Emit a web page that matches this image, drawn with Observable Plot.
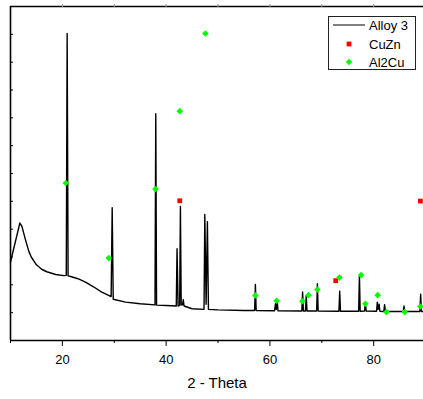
<!DOCTYPE html>
<html>
<head>
<meta charset="utf-8">
<script src="https://cdn.jsdelivr.net/npm/d3@7"></script>
<script src="https://cdn.jsdelivr.net/npm/@observablehq/plot@0.6"></script>
<style>
  html, body { margin: 0; padding: 0; background: #fff; }
  #chart { position: relative; width: 423px; height: 399px; font-family: "Liberation Sans", Arial, sans-serif; }
  #legend { position: absolute; left: 0; top: 0; pointer-events: none; }
</style>
</head>
<body>
<div id="chart"></div>
<script>
// XRD pattern of Alloy 3: 2θ (degrees) and intensity (a.u.)
const twoTheta = [
  10, 11.8, 12.2, 12.8, 13.5, 14.0, 15.0, 16.0, 17.0, 18.7, 20.3, 20.75, 20.92, 21.1, 21.6, 23.0, 24.45,
  26.0, 27.5, 29.4, 29.6, 29.8,
  32.2, 35, 37.85, 38.0, 38.15, 40, 41.95, 42.1, 42.3, 42.6, 42.75, 42.9, 43.15, 43.3, 43.45, 45,
  47.3, 47.45, 47.7, 47.95, 48.15, 50, 55, 57.05, 57.2, 57.35, 60.9, 61.06, 61.22, 61.4, 61.55,
  66.15, 66.3, 66.45, 66.85, 67.0, 67.15, 69.0, 69.15, 69.3, 73.3, 73.45, 73.6, 77.1, 77.25, 77.4,
  78.25, 78.4, 78.55, 80.55, 80.7, 80.85, 81.05, 81.2, 81.95, 82.1, 82.25, 85.7, 85.85, 86.0,
  88.9, 89.05, 89.2, 89.6
];
const intensity = [
  282, 422, 410, 368, 322, 300, 272, 256, 247, 237, 233, 234, 1103, 232, 230, 222, 210,
  193, 175, 158, 477, 148,
  138, 132, 128, 815, 127, 126, 124, 330, 124, 126, 482, 128, 128, 147, 124, 114,
  112, 453, 130, 427, 112, 110, 108, 108, 201, 108, 107, 132, 112, 146, 107,
  106, 174, 106, 106, 162, 106, 106, 204, 106, 105, 177, 105, 105, 234, 105,
  106, 138, 106, 105, 138, 112, 130, 105, 104, 129, 104, 104, 124, 104,
  104, 166, 104, 104
];

// Reference phase markers
const cuZnTheta = [42.62, 72.68, 89.0];
const cuZnY = [502, 215, 501];
const al2CuTheta = [20.66, 28.94, 37.94, 42.62, 47.57, 57.2, 61.3, 66.26, 67.42, 69.15, 73.4,
  77.57, 78.4, 80.77, 82.45, 85.97, 89.0];
const al2CuY = [566, 296, 544, 824, 1103, 162, 143, 141, 163, 183, 226,
  235, 132, 163, 102, 102, 122];

const xMajorTicks = [20, 40, 60, 80];
const xMinorTicks = [10, 30, 50, 70, 90];
const xTopTicks = [20, 30, 40, 50, 60, 70, 80];
const yTicks = d3.range(100, 1200, 100);
const seriesNames = ["Alloy 3", "CuZn", "Al2Cu"];
const xLabel = "2 - Theta";

const GREEN = "#00ff00";
const RED = "#ff0000";

const pattern = twoTheta.map((t, i) => ({t, v: intensity[i]}));
const cuZn = cuZnTheta.map((t, i) => ({t, v: cuZnY[i]}));
const al2Cu = al2CuTheta.map((t, i) => ({t, v: al2CuY[i]}));

// square rotated 45°, as wide as it is tall
const diamond = {
  draw(context, size) {
    const h = Math.sqrt(size / Math.PI);
    context.moveTo(0, -h);
    context.lineTo(h, 0);
    context.lineTo(0, h);
    context.lineTo(-h, 0);
    context.closePath();
  }
};

const plot = Plot.plot({
  width: 423,
  height: 399,
  marginLeft: 10,
  marginRight: 0,
  marginTop: 6,
  marginBottom: 59,
  style: {fontFamily: "Liberation Sans, Arial, sans-serif", fontSize: "13px", color: "#000", background: "#fff"},
  x: {domain: [10, 89.6], label: null},
  y: {domain: [0, 1200], label: null},
  marks: [
    Plot.line(pattern, {x: "t", y: "v", stroke: "#000", strokeWidth: 1.4, strokeLinejoin: "round"}),
    Plot.dot(cuZn, {x: "t", y: "v", symbol: "square", r: 2.7, fill: RED, stroke: null}),
    Plot.dot(al2Cu, {x: "t", y: "v", symbol: diamond, r: 3.3, fill: GREEN, stroke: null}),
    Plot.ruleX([10], {stroke: "#000", strokeWidth: 1.6}),
    Plot.ruleY([0, 1200], {stroke: "#000", strokeWidth: 1.6}),
    Plot.axisX({ticks: xMajorTicks, tickSize: 6, tickPadding: 8, tickFormat: d => String(d), fontSize: 13}),
    Plot.axisX({ticks: xMinorTicks, tickSize: 3, tickFormat: () => ""}),
    Plot.axisX({anchor: "top", ticks: xTopTicks, tickSize: 3, tickFormat: () => "", stroke: "#999"}),
    Plot.axisY({ticks: yTicks, tickSize: 3, dx: 3, tickFormat: () => ""}),
    Plot.text([xLabel], {text: d => d, frameAnchor: "bottom", dy: 43, fontSize: 15, lineAnchor: "middle", fill: "#000"})
  ]
});

const chart = document.getElementById("chart");
chart.appendChild(plot);

// legend box in the upper-right corner of the plot
const legend = d3.select(chart).append("svg")
  .attr("id", "legend")
  .attr("width", 423)
  .attr("height", 399);
legend.append("rect")
  .attr("x", 328.5).attr("y", 16.5).attr("width", 87).attr("height", 53)
  .attr("fill", "#fff").attr("stroke", "#222").attr("stroke-width", 1);
const rowY = [25, 44, 62];
legend.append("line")
  .attr("x1", 333).attr("x2", 365).attr("y1", rowY[0]).attr("y2", rowY[0])
  .attr("stroke", "#000").attr("stroke-width", 1);
legend.append("rect")
  .attr("x", 349 - 2.4).attr("y", rowY[1] - 2.4).attr("width", 4.8).attr("height", 4.8)
  .attr("fill", RED);
legend.append("path")
  .attr("d", `M349,${rowY[2] - 3.3}L${349 + 3.3},${rowY[2]}L349,${rowY[2] + 3.3}L${349 - 3.3},${rowY[2]}Z`)
  .attr("fill", GREEN);
legend.selectAll("text.lbl")
  .data(seriesNames)
  .join("text")
  .attr("class", "lbl")
  .attr("x", 369)
  .attr("y", (d, i) => rowY[i])
  .attr("dy", "0.35em")
  .attr("font-family", "Liberation Sans, Arial, sans-serif")
  .attr("font-size", 13)
  .attr("fill", "#000")
  .text(d => d);
</script>
</body>
</html>
